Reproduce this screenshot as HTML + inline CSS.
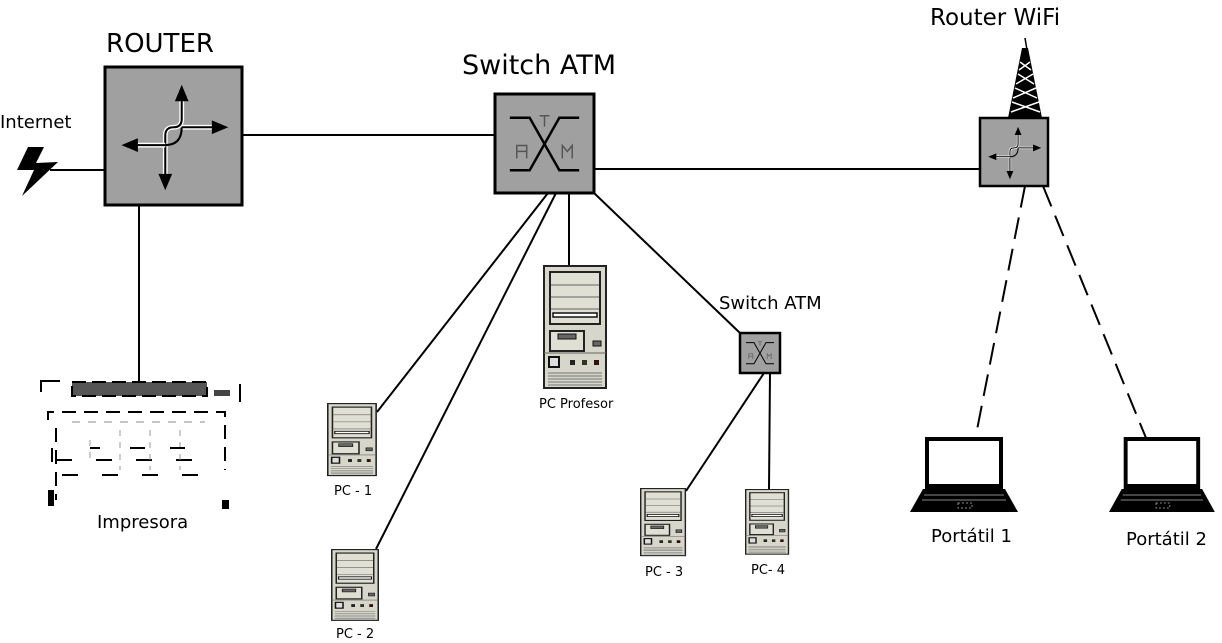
<!DOCTYPE html>
<html><head><meta charset="utf-8"><style>
html,body{margin:0;padding:0;background:#fff;}
svg{display:block;}
text{font-family:"DejaVu Sans","Liberation Sans",sans-serif;fill:#000;}
</style></head><body>
<svg width="1222" height="643" viewBox="0 0 1222 643" xmlns="http://www.w3.org/2000/svg">
<defs>
  <g id="rt">
    <path d="M56,24 V38 Q56,44 50,44 Q44,44 44,50 V80" fill="none" stroke="#fff" stroke-width="3.5"/>
    <path d="M56,24 V38 Q56,44 50,44 Q44,44 44,50 V80" fill="none" stroke="#000" stroke-width="1.5"/>
    <path d="M56,44 H80 M44,57 H22" stroke="#fff" stroke-width="3.5"/>
    <path d="M56,44 H80 M44,57 H22" stroke="#000" stroke-width="1.5"/>
    <path d="M56,44 Q56,57 44,57" fill="none" stroke="#000" stroke-width="1.5"/>
    <polygon points="56,13 51,25 61,25"/>
    <polygon points="90,44 78,39 78,49"/>
    <polygon points="12,57 24,52 24,62"/>
    <polygon points="44,90 39,78 49,78"/>
  </g>
  <g id="atm">
    <path d="M15,24 H35 L65,77 H85 M15,77 H35 L65,24 H85" fill="none" stroke="#000" stroke-width="2.5"/>
    <path d="M45,22 H55 M50,22 V33" stroke="#555" stroke-width="1.5"/>
    <path d="M22,65 V52 H32 V65 M22,58 H32" fill="none" stroke="#555" stroke-width="1.5"/>
    <path d="M68,65 V52 L73,58 L78,52 V65" fill="none" stroke="#555" stroke-width="1.5"/>
  </g>
  <g id="pc">
    <rect x="1" y="1" width="62" height="122" fill="#d6d6ca" stroke="#222" stroke-width="2"/>
    <rect x="7" y="7" width="50" height="52" fill="#dfdfd3" stroke="#222" stroke-width="2"/>
    <path d="M8,20 H56 M8,32 H56 M8,44 H56" stroke="#666" stroke-width="1"/>
    <rect x="10" y="48" width="44" height="4" fill="#fff" stroke="#111" stroke-width="1.5"/>
    <rect x="7" y="66" width="34" height="20" fill="#dfdfd3" stroke="#222" stroke-width="2"/>
    <rect x="15" y="69" width="18" height="5" fill="#666" stroke="#111"/>
    <rect x="50" y="76" width="8" height="5" fill="#666" stroke="#111"/>
    <path d="M1,88 H63" stroke="#666" stroke-width="1"/>
    <rect x="6" y="92" width="10" height="10" fill="#ddd" stroke="#111" stroke-width="2"/>
    <rect x="27" y="95" width="5" height="5" fill="#222"/>
    <rect x="39" y="95" width="5" height="5" fill="#332"/>
    <rect x="51" y="95" width="5" height="5" fill="#311"/>
    <path d="M5,108 H59 M5,111 H59 M5,114 H59 M5,117 H59 M5,120 H59" stroke="#777" stroke-width="1"/>
  </g>
  <g id="lap">
    <rect x="15" y="0" width="78" height="52" fill="#000"/>
    <rect x="19" y="4" width="70" height="43" fill="#fff"/>
    <polygon points="13,52 95,52 108,75 0,75" fill="#000"/>
    <path d="M14,58 H94 M12,63 H96" stroke="#888" stroke-width="1"/>
    <rect x="48" y="66" width="14" height="5" fill="none" stroke="#888" stroke-width="1" stroke-dasharray="2,2"/>
  </g>
</defs>

<g stroke="#000" stroke-width="2" fill="none">
  <line x1="50" y1="170" x2="105" y2="170"/>
  <line x1="242" y1="135" x2="495" y2="135"/>
  <line x1="139" y1="205" x2="139" y2="381"/>
  <line x1="594" y1="169" x2="980" y2="169"/>
  <line x1="548" y1="193" x2="377" y2="412"/>
  <line x1="556" y1="193" x2="376" y2="549"/>
  <line x1="569" y1="193" x2="569" y2="265"/>
  <line x1="594" y1="193" x2="740" y2="333"/>
  <line x1="764" y1="373" x2="686" y2="491"/>
  <line x1="770" y1="373" x2="769" y2="489"/>
  <line x1="1025" y1="186" x2="975" y2="440" stroke-dasharray="22,10"/>
  <line x1="1043" y1="186" x2="1146" y2="438" stroke-dasharray="22,10"/>
</g>

<polygon points="28,147 44,147 36,163 58,162 22,196 34,170 17,170" fill="#000"/>
<text x="0" y="128" font-size="18">Internet</text>

<rect x="105" y="67" width="137" height="138" fill="#a0a0a0" stroke="#000" stroke-width="3"/>
<use href="#rt" transform="translate(105,67) scale(1.37)"/>
<text x="106" y="52" font-size="26">ROUTER</text>

<rect x="495" y="94" width="99" height="99" fill="#a0a0a0" stroke="#000" stroke-width="3"/>
<use href="#atm" transform="translate(495,94) scale(0.99)"/>
<text x="462" y="74" font-size="27">Switch ATM</text>

<rect x="740" y="333" width="40" height="40" fill="#a0a0a0" stroke="#000" stroke-width="2.5"/>
<use href="#atm" transform="translate(740,333) scale(0.4)"/>
<text x="719" y="309" font-size="18">Switch ATM</text>

<path d="M1025,38 L1027,50" stroke="#000" stroke-width="1.5"/>
<polygon points="1022,48 1028,48 1042,118 1008,118" fill="#000"/>
<path d="M1020,62 L1031,70 M1018,74 L1034,84 M1015,88 L1037,98 M1012,102 L1040,112 M1030,62 L1019,70 M1033,74 L1016,84 M1036,88 L1013,98 M1039,102 L1011,112" stroke="#fff" stroke-width="1.5"/>
<rect x="980" y="118" width="68" height="68" fill="#a0a0a0" stroke="#000" stroke-width="2.5"/>
<use href="#rt" transform="translate(980,118) scale(0.68)"/>
<text x="930" y="25" font-size="23">Router WiFi</text>

<use href="#pc" transform="translate(543,265) scale(1,1)"/>
<text x="539" y="408" font-size="13">PC Profesor</text>
<use href="#pc" transform="translate(327,403) scale(0.78,0.59)"/>
<text x="334" y="495" font-size="13">PC - 1</text>
<use href="#pc" transform="translate(331,549) scale(0.75,0.58)"/>
<text x="336" y="638" font-size="13">PC - 2</text>
<use href="#pc" transform="translate(640,488) scale(0.72,0.55)"/>
<text x="645" y="576" font-size="13">PC - 3</text>
<use href="#pc" transform="translate(745,489) scale(0.69,0.53)"/>
<text x="751" y="574" font-size="13">PC- 4</text>

<use href="#lap" transform="translate(910,437)"/>
<text x="931" y="542" font-size="18">Portátil 1</text>
<use href="#lap" transform="translate(1109,437) scale(0.98,1)"/>
<text x="1126" y="545" font-size="18">Portátil 2</text>

<g fill="none" stroke="#000" stroke-width="2">
  <rect x="72" y="382" width="135" height="14" fill="#555" stroke-dasharray="14,6"/>
  <rect x="214" y="390" width="16" height="6" fill="#444" stroke="none"/>
  <path d="M41,392 V381 H60 M240,384 V402" />
  <path d="M48,420 V412 H225 V470" stroke-dasharray="14,8"/>
  <path d="M56,428 V500 M52,448 V470" stroke-dasharray="14,8"/>
  <path d="M56,460 H215 M62,475 H205" stroke-dasharray="16,24"/>
  <path d="M72,422 H205" stroke="#888" stroke-width="1" stroke-dasharray="8,8"/>
  <path d="M90,440 V460 M120,430 V470 M150,430 V470 M180,430 V470" stroke="#999" stroke-width="1" stroke-dasharray="6,6"/>
  <path d="M90,448 H100 M130,448 H145 M170,448 H185" />
</g>
<rect x="48" y="490" width="6" height="16" fill="#000"/>
<rect x="222" y="500" width="7" height="9" fill="#000"/>
<text x="97" y="528" font-size="18">Impresora</text>
</svg>
</body></html>
